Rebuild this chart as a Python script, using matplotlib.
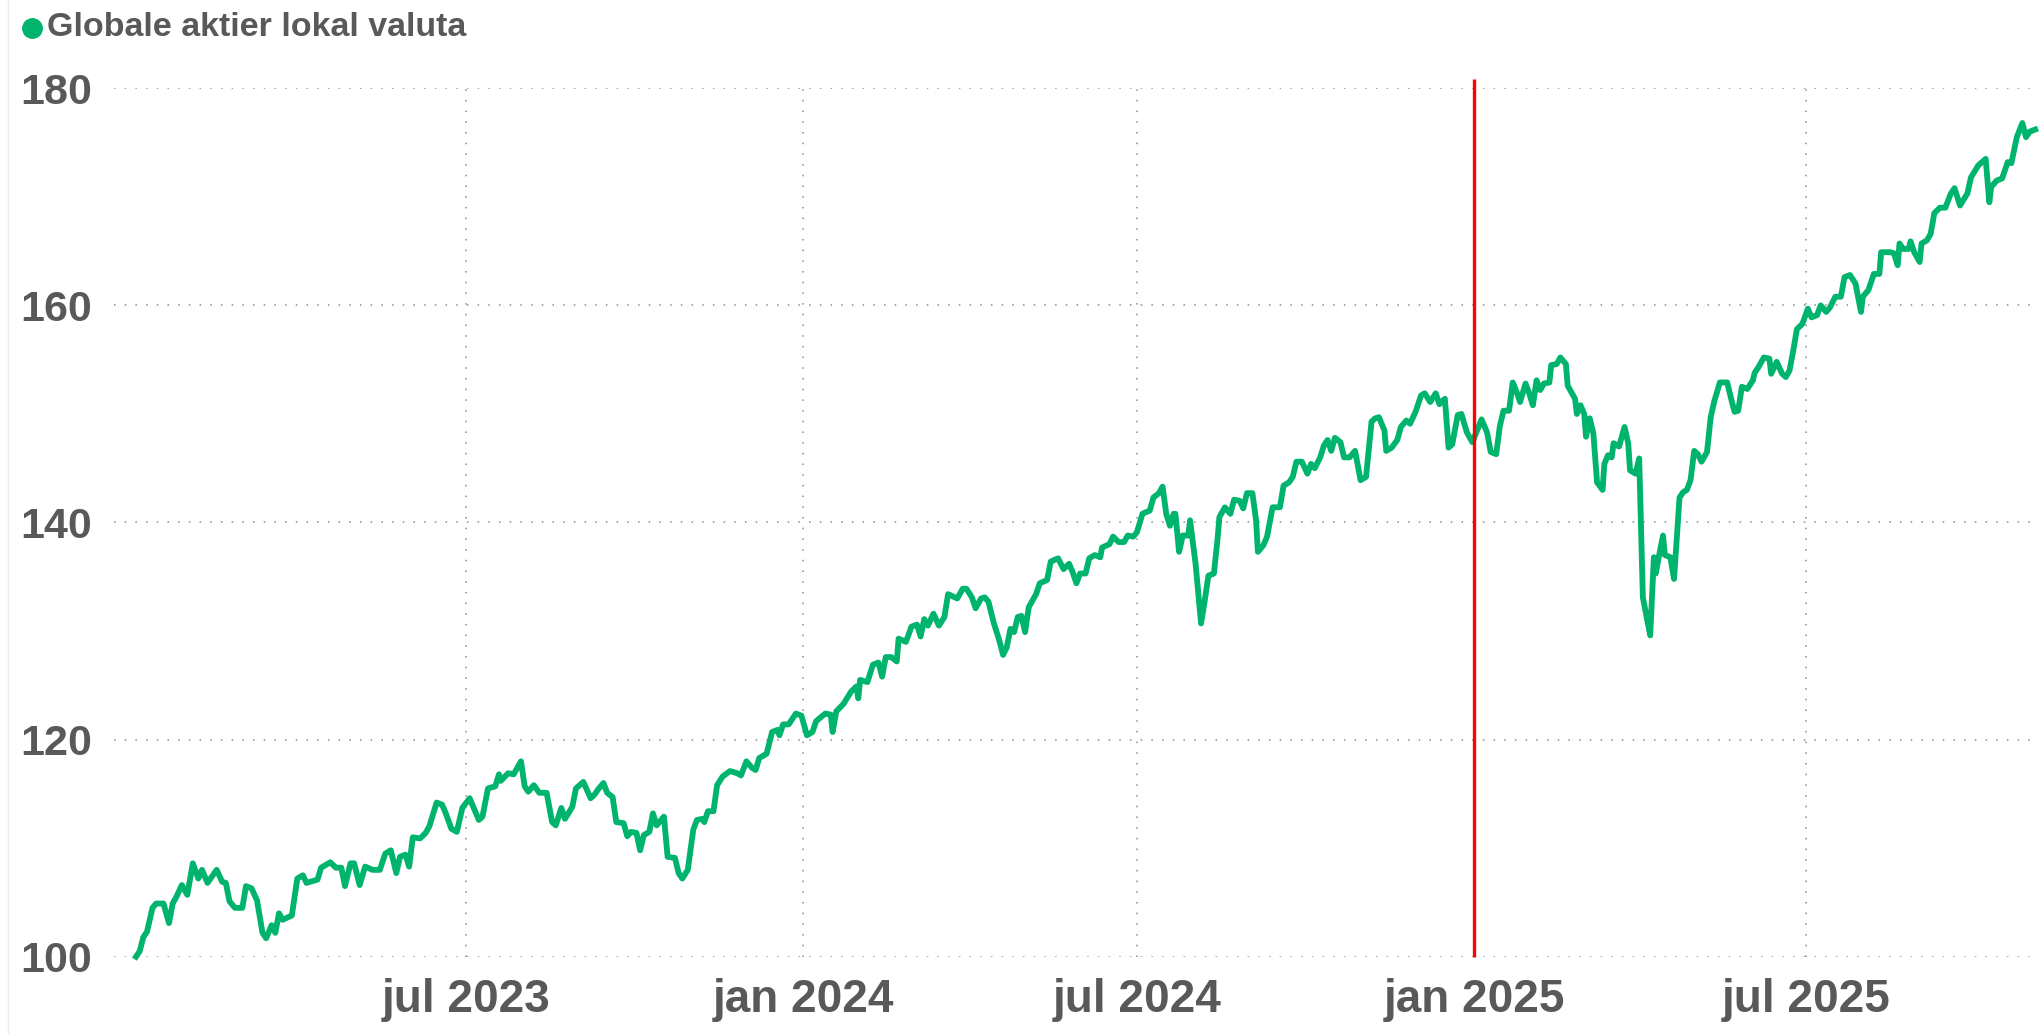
import pandas as pd
import matplotlib
matplotlib.use('Agg')
import matplotlib.pyplot as plt
from matplotlib.lines import Line2D

# Indekseret kurs (dag nr. efter START)
START = '2022-12-31'
DAY = [2, 4, 6, 8, 11, 13, 17, 20, 22, 24, 27, 30, 33, 36, 38, 41, 46, 49, 51, 53,
       56, 60, 62, 65, 68, 71, 73, 76, 78, 80, 82, 87, 90, 93, 95, 101, 103, 108, 111, 114,
       116, 119, 121, 124, 127, 131, 135, 138, 141, 144, 146, 149, 151, 153, 157, 160, 162, 166, 169, 171,
       174, 177, 180, 184, 189, 191, 194, 198, 200, 201, 205, 208, 212,
       214, 216, 219, 222, 226, 229, 231, 234, 236, 240, 242, 246, 250, 252, 254, 257, 259, 262, 264, 268,
       270, 272, 275, 277, 279, 282, 284, 286, 290, 292, 296, 298, 300, 303, 306, 308, 311, 312, 314, 317,
       319, 322, 326, 330, 332, 335, 338, 340, 342, 346, 349, 352, 353, 355, 358, 362, 365, 368, 371, 373,
       378, 381, 382, 384, 388, 392, 395, 396, 397, 401, 404, 407, 409, 411, 414, 417, 418, 422, 425, 428,
       430, 432, 434, 437, 440, 443, 445, 450, 453, 455, 458, 460, 463, 465, 467, 470, 473, 475, 477, 479,
       481, 483, 485, 487, 489, 493, 495, 499, 501, 505, 508, 511, 513, 515, 517, 520, 522, 525, 528, 529,
       533, 535, 538, 541, 543, 546, 548, 551, 555, 557, 560, 562, 564, 566, 568, 569, 571, 573, 576, 577,
       580, 583, 585, 587, 590, 592, 593, 596, 599, 601, 604, 606, 608, 611, 613, 614, 617, 619, 622, 626,
       628, 631, 633, 635, 638, 641, 643, 645, 648,
       650, 652, 654, 656, 659, 661, 664, 667, 670, 673, 676, 678, 680, 683, 684, 687, 690, 692, 695, 697,
       700, 703, 705, 708, 711, 713, 716, 718, 720, 723, 725, 728, 731, 736, 739, 741, 744, 746, 748, 751,
       753, 755, 757, 760, 762, 764, 766, 768, 770, 773, 774, 777, 779, 782, 783, 785, 787, 788, 790, 792,
       793, 795, 797, 799, 802, 803, 805, 807, 808, 811, 814, 816, 817, 820, 822, 824, 828, 830, 831, 833,
       835, 836, 839, 841, 844, 846, 848, 850, 852, 854, 856, 859,
       861, 863, 866, 870, 872, 874, 876, 878, 881, 884, 885, 887, 890, 893, 894, 897, 900, 902, 904, 906,
       908, 911, 914, 916, 919, 921, 924, 926, 929, 932, 934, 937, 940, 943, 944, 947, 950, 953, 954, 959,
       961, 963, 964, 966, 969, 970, 972, 975, 976, 979, 981, 983, 986, 989, 992, 994, 997, 1001, 1003, 1007,
       1011, 1013, 1014, 1017, 1020, 1023, 1025, 1028, 1031, 1033, 1035, 1038]
VALUE = [100.0, 100.5, 101.8, 102.3, 104.5, 104.9, 104.9, 103.1, 104.9, 105.5, 106.6, 105.7, 108.6, 107.2, 108.0, 106.8, 108.0, 106.9, 106.8, 105.1,
         104.5, 104.5, 106.5, 106.3, 105.2, 102.2, 101.7, 102.9, 102.2, 104.0, 103.4, 103.8, 107.2, 107.5, 106.8, 107.1, 108.2, 108.7, 108.2, 108.2,
         106.5, 108.6, 108.6, 106.6, 108.3, 108.0, 108.0, 109.5, 109.8, 107.7, 109.2, 109.4, 108.3, 111.0, 110.9, 111.4, 112.0, 114.2, 114.0, 113.2,
         111.8, 111.5, 113.7, 114.6, 112.6, 112.9, 115.5, 115.7, 116.8, 116.2, 116.9, 116.8, 118.0,
         115.7, 115.2, 115.8, 115.1, 115.1, 112.4, 112.1, 113.7, 112.7, 113.8, 115.5, 116.1, 114.6, 114.9, 115.4, 116.0, 115.1, 114.7, 112.4, 112.3,
         111.1, 111.5, 111.4, 109.8, 111.2, 111.5, 113.2, 112.1, 112.9, 109.2, 109.1, 107.7, 107.2, 108.0, 111.7, 112.6, 112.7, 112.4, 113.4, 113.4,
         115.8, 116.6, 117.1, 116.9, 116.7, 118.0, 117.4, 117.2, 118.3, 118.7, 120.7, 120.9, 120.4, 121.4, 121.4, 122.4, 122.2, 120.4, 120.7, 121.7,
         122.4, 122.3, 120.7, 122.6, 123.3, 124.4, 124.9, 123.8, 125.5, 125.3, 126.9, 127.1, 125.8, 127.6, 127.6, 127.2, 129.3, 129.0, 130.4, 130.6,
         129.5, 131.1, 130.5, 131.6, 130.5, 131.3, 133.4, 133.0, 133.9, 133.9, 133.1, 132.1, 133.0, 133.1, 132.7, 130.7, 129.1, 127.8, 128.5, 130.2,
         129.9, 131.3, 131.4, 129.9, 132.2, 133.4, 134.4, 134.7, 136.4, 136.7, 135.7, 136.2, 135.4, 134.4, 135.3, 135.3, 136.7, 137.0, 136.8, 137.7,
         138.0, 138.7, 138.2, 138.2, 138.8, 138.7, 139.1, 140.8, 141.1, 142.3, 142.7, 143.3, 140.8, 139.7, 140.8, 140.8, 137.3, 138.8, 138.8, 140.2,
         136.2, 130.7, 132.8, 135.1, 135.3, 138.5, 140.5, 141.4, 140.8, 142.1, 142.0, 141.3, 142.7, 142.7, 140.2, 137.3, 137.9, 138.7, 141.4, 141.4,
         143.4, 143.7, 144.2, 145.6, 145.6, 144.5, 145.4, 145.0, 146.0,
         147.1, 147.6, 146.6, 147.8, 147.4, 146.0, 146.0, 146.6, 143.9, 144.2, 149.3, 149.6, 149.7, 148.5, 146.6, 146.9, 147.6, 148.8, 149.4, 149.1,
         150.2, 151.7, 151.9, 151.1, 151.9, 150.9, 151.4, 146.9, 147.2, 149.9, 150.0, 148.3, 147.4, 149.5, 148.3, 146.5, 146.3, 148.9, 150.3, 150.3,
         152.9, 152.1, 151.1, 152.8, 151.9, 150.8, 153.1, 152.2, 152.8, 152.9, 154.5, 154.6, 155.2, 154.6, 152.6, 152.0, 151.4, 150.0, 150.8, 150.0,
         147.9, 149.6, 148.2, 143.7, 143.0, 145.4, 146.2, 146.0, 147.3, 147.0, 148.8, 147.3, 144.8, 144.5, 145.9, 133.1, 129.6, 136.8, 135.3, 137.1,
         138.8, 137.0, 136.8, 134.8, 142.3, 142.8, 143.0, 143.9, 146.6, 146.3, 145.6, 146.5,
         149.7, 151.2, 152.9, 152.9, 151.5, 150.2, 150.3, 152.5, 152.3, 153.1, 153.8, 154.3, 155.2, 155.1, 153.7, 154.8, 153.7, 153.4, 154.0, 155.8,
         157.8, 158.3, 159.7, 158.9, 159.1, 160.0, 159.4, 159.8, 160.8, 160.8, 162.6, 162.8, 162.0, 159.4, 160.8, 161.4, 162.9, 162.9, 164.9, 164.9,
         164.8, 163.7, 165.7, 165.2, 165.2, 165.9, 164.9, 164.0, 165.7, 166.0, 166.6, 168.5, 169.0, 169.0, 170.3, 170.8, 169.2, 170.3, 171.8, 172.9,
         173.5, 169.5, 170.9, 171.5, 171.7, 173.2, 173.1, 175.5, 176.8, 175.5, 176.0, 176.2]

SERIES_NAME = 'Globale aktier lokal valuta'
MARKER_DATE = '2025-01-01'
TICK_DATES = ['2023-07-01', '2024-01-01', '2024-07-01', '2025-01-01', '2025-07-01']
TICK_LABELS = ['jul 2023', 'jan 2024', 'jul 2024', 'jan 2025', 'jul 2025']
Y_TICKS = [100, 120, 140, 160, 180]

GREEN = '#00b46e'
GREY = '#595959'

plt.rcParams['font.family'] = ['Liberation Sans', 'DejaVu Sans']

dates = pd.Timestamp(START) + pd.to_timedelta(DAY, unit='D')

W, H = 2042, 1034
fig = plt.figure(figsize=(W / 100, H / 100), dpi=100)
ax = fig.add_axes([114 / W, 1 - 956.7 / H, (2037 - 114) / W, (956.7 - 88.3) / H])

ax.plot(dates, VALUE, color=GREEN, lw=4.2, clip_on=False, solid_joinstyle='round', zorder=3)
ax.vlines(pd.Timestamp(MARKER_DATE), 100, 180.9, color='red', lw=2.4, clip_on=False, zorder=4)

ax.set_ylim(100, 180)
ax.set_xlim(pd.Timestamp('2022-12-21'), pd.Timestamp('2025-11-04'))
ax.set_yticks(Y_TICKS)
ax.set_xticks(pd.to_datetime(TICK_DATES))
ax.set_xticklabels(TICK_LABELS)

ax.grid(True, color='#8c8c8c', lw=1.1, ls=(0, (1, 6)))
for s in ax.spines.values():
    s.set_visible(False)
ax.tick_params(axis='both', length=0, labelcolor=GREY)
ax.tick_params(axis='y', pad=16, labelsize=31)
ax.tick_params(axis='x', pad=15, labelsize=33)
for lab in ax.get_xticklabels() + ax.get_yticklabels():
    lab.set_fontweight('bold')

# legende øverst til venstre
fig.add_artist(Line2D([31.7 / W], [1 - 28 / H], marker='o', markersize=14, color=GREEN,
                      linestyle='none', transform=fig.transFigure))
fig.text(47 / W, 1 - 36 / H, SERIES_NAME, fontsize=24.5, fontweight='bold', color=GREY,
         va='baseline', ha='left')

# svag kant til venstre
fig.add_artist(Line2D([8 / W, 8 / W], [0, 1], color='#ececec', lw=1, transform=fig.transFigure))

fig.savefig('out.png', dpi=100)
